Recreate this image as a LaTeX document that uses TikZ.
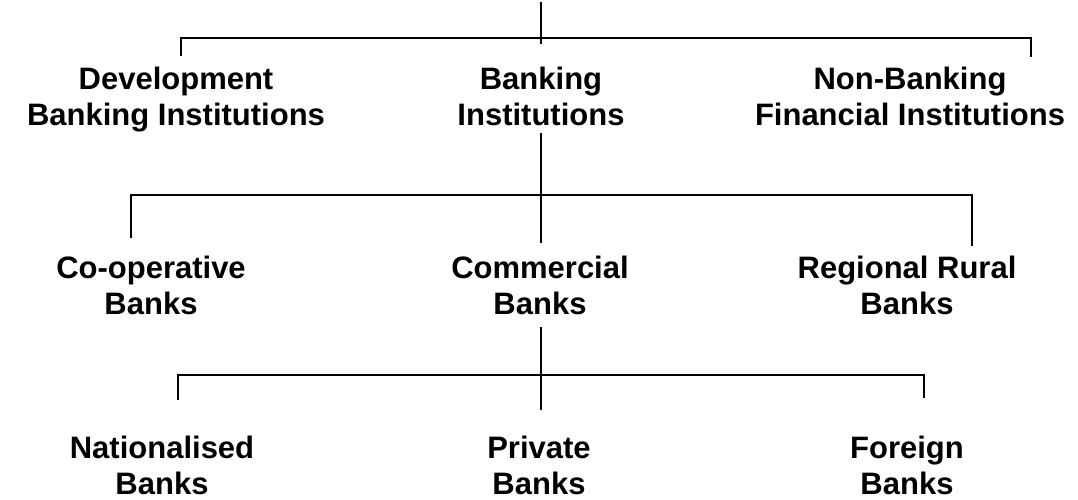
\documentclass[tikz,border=0pt]{standalone}
\usepackage{fontspec}
\setmainfont{Liberation Sans}

\tikzset{
  inst/.style={align=center, inner sep=0pt, anchor=base,
    font=\bfseries\fontsize{31}{36}\selectfont},
  link/.style={line width=1.8pt}
}

\begin{document}
\begin{tikzpicture}[x=1pt,y=-1pt]
\useasboundingbox (0,0) rectangle (1078,499);

% institutions
\node[inst] (dev) at (176,125) {Development\\Banking Institutions};
\node[inst] (bank) at (541,125) {Banking\\Institutions};
\node[inst] (nbfi) at (910,125) {Non-Banking\\Financial Institutions};

% banks
\node[inst] (coop) at (151,314) {Co-operative\\Banks};
\node[inst] (comm) at (540,314) {Commercial\\Banks};
\node[inst] (rrb) at (907,314) {Regional Rural\\Banks};

% commercial banks
\node[inst] (nat) at (162,494) {Nationalised\\Banks};
\node[inst] (priv) at (539,494) {Private\\Banks};
\node[inst] (forgn) at (907,494) {Foreign\\Banks};

% junctions and line ends
\coordinate (top) at (541,2);
\coordinate (hubA) at (541,38);
\coordinate (hubA1) at (181,38);
\coordinate (hubA3) at (1031,38);
\coordinate (endA1) at (181,56);
\coordinate (endA2) at (541,44);
\coordinate (endA3) at (1031,57);

\coordinate (startB) at (541,133);
\coordinate (hubB) at (541,195);
\coordinate (hubB1) at (131,195);
\coordinate (hubB3) at (972,195);
\coordinate (endB1) at (131,238);
\coordinate (endB2) at (541,243);
\coordinate (endB3) at (972,246);

\coordinate (startC) at (541,327);
\coordinate (hubC) at (541,375);
\coordinate (hubC1) at (178,375);
\coordinate (hubC3) at (924,375);
\coordinate (endC1) at (178,400);
\coordinate (endC2) at (541,410);
\coordinate (endC3) at (924,398);

\draw[link] (top) -- (endA2);
\draw[link] (endA1) -- (hubA1) -- (hubA3) -- (endA3);

\draw[link] (startB) -- (endB2);
\draw[link] (endB1) -- (hubB1) -- (hubB3) -- (endB3);

\draw[link] (startC) -- (endC2);
\draw[link] (endC1) -- (hubC1) -- (hubC3) -- (endC3);
\end{tikzpicture}
\end{document}
